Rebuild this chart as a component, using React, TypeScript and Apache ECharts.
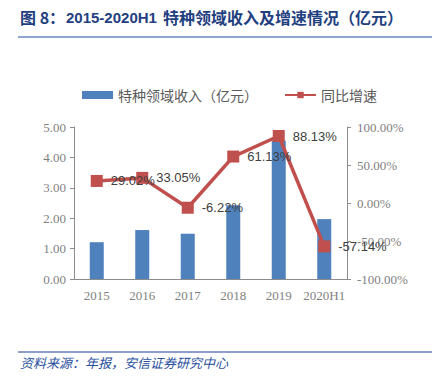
import React, { useEffect, useRef } from "react";
import * as echarts from "echarts";

const categories = ["2015", "2016", "2017", "2018", "2019", "2020H1"];
const revenue = [1.21, 1.61, 1.49, 2.43, 4.55, 1.97];
const growth = [29.02, 33.05, -6.22, 61.13, 88.13, -57.14];
const titlePrefix = "图 8：";
const titleYears = "2015-2020H1";
const titleRest = "特种领域收入及增速情况（亿元）";
const sourceText = "资料来源：年报，安信证券研究中心";
const barName = "特种领域收入（亿元）";
const lineName = "同比增速";

export default function App() {
  const ref = useRef<HTMLDivElement>(null);
  useEffect(() => {
    if (!ref.current) return;
    const chart = echarts.init(ref.current, null, { renderer: "svg" });
    const axisLabelStyle = {
      fontFamily: "Liberation Serif",
      fontSize: 13,
      color: "#7f7f7f",
    };
    const titleColor = "#1f4080";
    chart.setOption({
      animation: false,
      backgroundColor: "#ffffff",
      graphic: [
        {
          type: "text",
          x: 20,
          y: 17,
          style: {
            text: titlePrefix,
            font: "bold 16px 'Noto Sans CJK SC'",
            fill: titleColor,
            verticalAlign: "middle",
          },
        },
        {
          type: "text",
          x: 66,
          y: 17,
          style: {
            text: titleYears,
            font: "bold 15px 'Liberation Sans'",
            fill: titleColor,
            verticalAlign: "middle",
          },
        },
        {
          type: "text",
          x: 163,
          y: 17,
          style: {
            text: titleRest,
            font: "bold 16px 'Noto Sans CJK SC'",
            fill: titleColor,
            verticalAlign: "middle",
          },
        },
        {
          type: "line",
          shape: { x1: 18, y1: 37, x2: 432, y2: 37 },
          style: { stroke: "#8fa5cc", lineWidth: 2 },
        },
        {
          type: "line",
          shape: { x1: 18, y1: 352, x2: 432, y2: 352 },
          style: { stroke: "#1f3d9a", lineWidth: 1 },
        },
        {
          type: "text",
          x: 20,
          y: 362,
          style: {
            text: sourceText,
            font: "italic 13px 'Noto Sans CJK SC'",
            fill: "#2a4f9e",
            verticalAlign: "middle",
          },
        },
      ],
      legend: {
        top: 83,
        left: 77,
        itemGap: 26,
        itemWidth: 31,
        itemHeight: 8,
        textStyle: {
          fontFamily: "Noto Sans CJK SC",
          fontSize: 14,
          color: "#595959",
        },
        data: [
          { name: barName, icon: "rect" },
          { name: lineName },
        ],
      },
      grid: { left: 74, right: 91, top: 127, bottom: 101 },
      xAxis: {
        type: "category",
        data: categories,
        axisLine: { lineStyle: { color: "#8c8c8c" } },
        axisTick: { length: 4, lineStyle: { color: "#8c8c8c" } },
        axisLabel: { ...axisLabelStyle, margin: 10, interval: 0 },
      },
      yAxis: [
        {
          type: "value",
          min: 0,
          max: 5,
          interval: 1,
          splitLine: { show: false },
          axisLine: { show: true, lineStyle: { color: "#8c8c8c" } },
          axisTick: { show: true, length: 4, lineStyle: { color: "#8c8c8c" } },
          axisLabel: {
            ...axisLabelStyle,
            margin: 8,
            formatter: (v: number) => v.toFixed(2),
          },
        },
        {
          type: "value",
          min: -100,
          max: 100,
          interval: 50,
          splitLine: { show: false },
          axisLine: { show: true, lineStyle: { color: "#8c8c8c" } },
          axisTick: { show: true, length: 4, lineStyle: { color: "#8c8c8c" } },
          axisLabel: {
            ...axisLabelStyle,
            margin: 10,
            formatter: (v: number) => v.toFixed(2) + "%",
          },
        },
      ],
      series: [
        {
          name: barName,
          type: "bar",
          data: revenue,
          barWidth: 14,
          itemStyle: { color: "#4f81bd" },
        },
        {
          name: lineName,
          type: "line",
          yAxisIndex: 1,
          data: growth,
          symbol: "rect",
          symbolSize: 12,
          lineStyle: { color: "#c0504d", width: 3.5 },
          itemStyle: { color: "#c0504d" },
          label: {
            show: true,
            position: "right",
            distance: 8,
            formatter: (p: any) => p.value.toFixed(2) + "%",
            fontFamily: "Liberation Sans",
            fontSize: 13,
            color: "#404040",
          },
        },
      ],
    });
    return () => chart.dispose();
  }, []);
  return <div ref={ref} style={{ width: 438, height: 380, position: "absolute", left: 0, top: 0 }} />;
}
